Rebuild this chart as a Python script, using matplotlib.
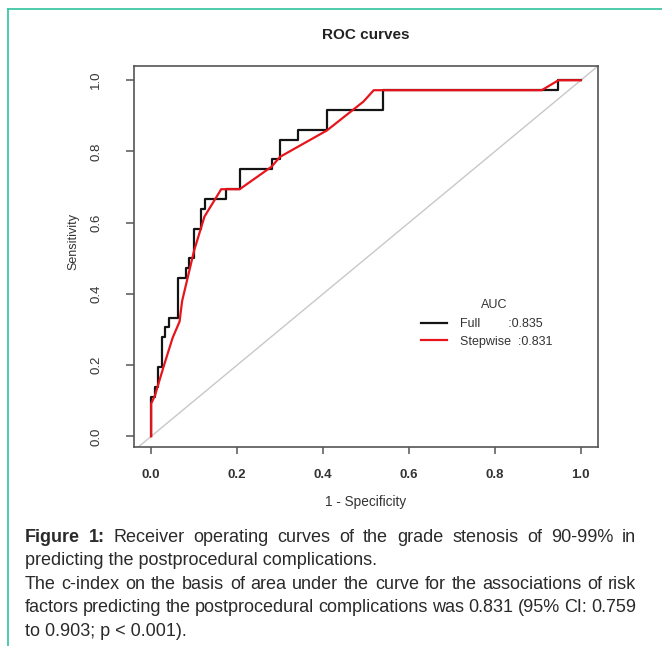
import matplotlib
matplotlib.use("Agg")
import matplotlib.pyplot as plt
from matplotlib.lines import Line2D

# DATA
# Full model ROC curve (corner points of the step curve)
full_fpr = [0.0, 0.0, 0.009, 0.009, 0.015, 0.015, 0.026, 0.026, 0.033, 0.033,
            0.042, 0.042, 0.063, 0.063, 0.081, 0.081, 0.089, 0.089, 0.100, 0.100,
            0.117, 0.117, 0.125, 0.125, 0.175, 0.175, 0.206, 0.206, 0.281, 0.281,
            0.300, 0.300, 0.342, 0.342, 0.410, 0.410, 0.539, 0.539, 0.948, 0.948, 1.0]
full_tpr = [0.0, 0.111, 0.111, 0.139, 0.139, 0.194, 0.194, 0.278, 0.278, 0.306,
            0.306, 0.333, 0.333, 0.444, 0.444, 0.472, 0.472, 0.500, 0.500, 0.583,
            0.583, 0.639, 0.639, 0.667, 0.667, 0.694, 0.694, 0.750, 0.750, 0.778,
            0.778, 0.833, 0.833, 0.861, 0.861, 0.917, 0.917, 0.972, 0.972, 1.0, 1.0]

# Stepwise model ROC curve
step_fpr = [0.0, 0.0, 0.009, 0.015, 0.030, 0.050, 0.066, 0.072, 0.100, 0.124,
            0.163, 0.206, 0.280, 0.300, 0.409, 0.494, 0.518, 0.909, 0.948, 1.0]
step_tpr = [0.0, 0.092, 0.115, 0.140, 0.200, 0.277, 0.322, 0.380, 0.522, 0.617,
            0.694, 0.694, 0.757, 0.785, 0.859, 0.940, 0.972, 0.972, 1.0, 1.0]

model_names = ["Full", "Stepwise"]
model_auc = [0.835, 0.831]
tick_values = [0.0, 0.2, 0.4, 0.6, 0.8, 1.0]

# CONSTANTS
FULL_COLOR = "#141414"
STEP_COLOR = "#e8141c"
TEXT_COLOR = "#333333"
CAPTION_COLOR = "#2a2a2a"
BORDER_COLOR = "#3fc8a6"
FONT_FAMILY = ["Liberation Sans", "DejaVu Sans"]

plt.rcParams["font.family"] = FONT_FAMILY

W, H = 662, 646
fig = plt.figure(figsize=(W / 100, H / 100), dpi=100)
fig.set_facecolor("white")

# page border lines (left and top)
fig.add_artist(Line2D([8 / W, 8 / W], [0, 1 - 9 / H], transform=fig.transFigure, color=BORDER_COLOR, lw=1.3))
fig.add_artist(Line2D([8 / W, 1], [1 - 9 / H, 1 - 9 / H], transform=fig.transFigure, color=BORDER_COLOR, lw=1.3))

# PLOT AREA
ax = fig.add_axes([134 / W, 1 - 447 / H, 464 / W, 381 / H])
ax.set_xlim(-0.04, 1.04)
ax.set_ylim(-0.03, 1.04)

ax.axline((0, 0), (1, 1), color="#c8c8c8", lw=1.0, zorder=1)
full_line, = ax.plot(full_fpr, full_tpr, color=FULL_COLOR, lw=1.6, zorder=2)
step_line, = ax.plot(step_fpr, step_tpr, color=STEP_COLOR, lw=1.6, zorder=3)

for spine in ax.spines.values():
    spine.set_color("#555555")
    spine.set_linewidth(1.2)

ax.set_xticks(tick_values)
ax.set_yticks(tick_values)
ax.set_xticklabels(["%.1f" % v for v in tick_values], fontweight="bold", fontsize=9.5, color=TEXT_COLOR)
ax.set_yticklabels(["%.1f" % v for v in tick_values], rotation=90, va="center", fontsize=9.5, color=TEXT_COLOR)
ax.tick_params(axis="x", direction="out", length=5, width=1.1, color="#555555", pad=11)
ax.tick_params(axis="y", direction="out", length=6, width=1.1, color="#555555", pad=17)

ax.set_xlabel("1 - Specificity", fontsize=9.8, color=TEXT_COLOR)
ax.xaxis.set_label_coords(0.5, -0.125)
ax.set_ylabel("Sensitivity", fontsize=9, color=TEXT_COLOR)
ax.yaxis.set_label_coords(-0.118, 0.54)

# Title
fig.text(366 / W, 1 - 35 / H, "ROC curves", ha="center", va="center", fontsize=11, fontweight="bold", color="#222222")

# Legend
labels = ["%s%s:%.3f" % (n, " " * sp, a) for n, a, sp in zip(model_names, model_auc, [8, 2])]
leg = ax.legend([full_line, step_line], labels, frameon=False, fontsize=9,
                loc="upper left", bbox_to_anchor=(421 / W, 1 - 318 / H),
                bbox_transform=fig.transFigure, borderpad=0, borderaxespad=0,
                handlelength=2.1, handletextpad=1.0, labelspacing=0.45)
for t in leg.get_texts():
    t.set_color(TEXT_COLOR)
fig.text(494 / W, 1 - 305 / H, "AUC", ha="center", va="center", fontsize=9, color=TEXT_COLOR)

# CAPTION
renderer = fig.canvas.get_renderer()
CAP_SIZE = 13
CAP_FAMILY = ["Liberation Sans", "DejaVu Sans"]
X0, X1 = 25, 636


def word_texts(words, y_px):
    return [fig.text(0, 1 - y_px / H, w, fontsize=CAP_SIZE, fontweight=wt, va="baseline",
                     color=CAPTION_COLOR, family=CAP_FAMILY) for w, wt in words]


def justify_line(words, y_px):
    # spread the words between X0 and X1
    texts = word_texts(words, y_px)
    widths = [t.get_window_extent(renderer).width for t in texts]
    gap = (X1 - X0 - sum(widths)) / (len(texts) - 1)
    x = X0
    for t, w in zip(texts, widths):
        t.set_x(x / W)
        x += w + gap


def plain_line(line, y_px):
    fig.text(X0 / W, 1 - y_px / H, line, fontsize=CAP_SIZE, va="baseline",
             color=CAPTION_COLOR, family=CAP_FAMILY)


line1 = [("Figure", "bold"), ("1:", "bold")] + [(w, "normal") for w in
         "Receiver operating curves of the grade stenosis of 90-99% in".split()]
justify_line(line1, 542)
plain_line("predicting the postprocedural complications.", 565)
justify_line([(w, "normal") for w in
              "The c-index on the basis of area under the curve for the associations of risk".split()], 589)
justify_line([(w, "normal") for w in
              "factors predicting the postprocedural complications was 0.831 (95% CI: 0.759".split()], 612)
plain_line("to 0.903; p < 0.001).", 636)

fig.savefig("out.png", dpi=100, facecolor="white")
